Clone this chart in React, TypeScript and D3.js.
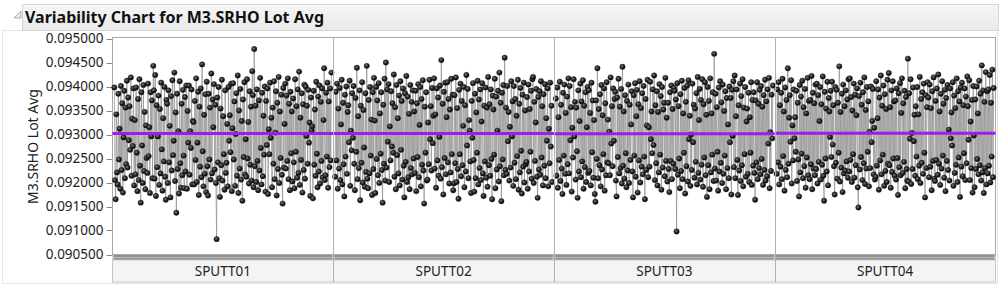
import React from "react";
import * as d3 from "d3";

const categories = ["SPUTT01", "SPUTT02", "SPUTT03", "SPUTT04"];

// Lot averages, in millionths above 0.090000
const base = 0.09;
const sputt01 = [
  3980, 2050, 1650, 3420, 2210, 1960, 3850, 2480, 3120, 1870,
  4010, 2260, 3650, 1790, 2940, 3910, 2090, 3560, 2380, 4120,
  2310, 3770, 2880, 3590, 2680, 4190, 2140, 3330, 2760, 3960,
  1940, 3300, 2170, 3980, 2620, 1820, 3740, 2050, 4150, 2350,
  1580, 3880, 2770, 1990, 4030, 2240, 3470, 1860, 3190, 2510,
  2200, 4060, 2550, 3150, 1780, 3880, 2960, 3710, 2090, 4430,
  3920, 2080, 4240, 1720, 3610, 2320, 2960, 3810, 1950, 3530,
  2190, 4080, 2690, 1830, 3340, 2440, 3990, 2120, 1640, 3720,
  3640, 1990, 3920, 2420, 3180, 1690, 3800, 2250, 4130, 2570,
  2870, 4290, 2030, 3460, 1370, 3850, 2280, 3070, 1770, 4110,
  2400, 1890, 3640, 2150, 3930, 2560, 1880, 3780, 2230, 4020,
  1870, 3490, 2830, 4020, 2160, 3070, 2720, 3940, 1960, 3280,
  3260, 1960, 3700, 2470, 4170, 2010, 2830, 3890, 1740, 3580,
  2330, 3960, 2110, 4460, 2650, 1920, 3410, 2180, 3840, 1800,
  4100, 2340, 1730, 3850, 2480, 3560, 2060, 4270, 2190, 3730,
  3150, 4050, 2270, 3620, 1990, 820, 3770, 2420, 3990, 2090,
  1700, 3540, 2360, 4140, 2040, 3380, 2590, 1850, 3920, 2200,
  2410, 3220, 1920, 3990, 2870, 3400, 2630, 4060, 1820, 3130,
  4070, 2480, 3690, 1930, 3010, 3860, 2140, 4230, 1780, 3500,
  2290, 3950, 2060, 3280, 1620, 3730, 2530, 4090, 2170, 2900,
  2120, 4150, 2500, 3260, 1980, 3900, 2370, 3580, 2040, 4320,
  3820, 1900, 4780, 2340, 3600, 2010, 3940, 2450, 1840, 3710,
  2250, 4180, 2720, 1960, 3870, 2130, 3390, 2580, 4000, 1810,
  3700, 2780, 3960, 1760, 3110, 2590, 4080, 2930, 3350, 1900,
  3560, 2390, 4110, 2070, 3040, 3900, 1730, 3660, 2280, 4200,
  1990, 3480, 2510, 3830, 2160, 1560, 3970, 2310, 3220, 4060,
  2290, 3810, 2450, 4170, 2070, 3640, 1840, 3890, 2610, 3480,
  2020, 3750, 2420, 1880, 4150, 2640, 3590, 2100, 3940, 2200,
  4310, 1950, 3350, 2470, 3860, 1790, 3630, 2260, 4040, 2080,
  4000, 2970, 3600, 2390, 3930, 2830, 3250, 1720, 3770, 3080,
  3170, 1670, 3910, 2370, 3520, 2140, 4100, 2600, 1900, 3790,
  2230, 4020, 1980, 3680, 2450, 3960, 2110, 3300, 4380, 2050,
  2150, 3870, 2540, 4080, 1890, 3690, 2320, 3960, 2460, 4290,
];
const sputt02 = [
  2120, 3890, 2460, 4060, 1870, 3540, 2290, 3970, 2050, 3210,
  4140, 1960, 3660, 2380, 1710, 3830, 2540, 4000, 2180, 3470,
  3610, 2840, 4120, 1930, 3080, 2670, 3860, 2930, 4010, 2390,
  1840, 3760, 2640, 4390, 2070, 3380, 2300, 3920, 1630, 3600,
  2410, 4090, 2000, 3510, 2730, 1910, 3860, 2220, 4430, 2080,
  1880, 3720, 2190, 3990, 2560, 3310, 1740, 3880, 2280, 4180,
  3290, 1780, 3990, 2490, 3710, 2150, 4070, 1990, 3440, 2600,
  3880, 2260, 1580, 3620, 2390, 4160, 2040, 4500, 2310, 3940,
  2850, 4050, 2010, 3170, 2460, 3900, 2750, 3650, 2620, 4250,
  2120, 3570, 1860, 4030, 2570, 3340, 2190, 3810, 1940, 4110,
  2680, 3700, 2060, 3960, 2350, 1690, 3860, 2430, 4220, 2010,
  3790, 2110, 3430, 1860, 4030, 2300, 3680, 2170, 3920, 2500,
  3480, 2200, 3910, 1820, 3650, 2530, 4050, 2110, 3200, 3990,
  1920, 3740, 2370, 4130, 2250, 1560, 3580, 2620, 3880, 2040,
  2060, 3250, 2380, 4140, 2900, 3590, 2250, 3970, 2820, 3390,
  4170, 2290, 3420, 1890, 3960, 2460, 3770, 2140, 2950, 4020,
  2080, 4550, 2320, 3640, 1750, 3890, 2510, 4080, 2170, 3360,
  4090, 2420, 3740, 1980, 3520, 2210, 4160, 2590, 3830, 1840,
  1980, 3820, 2400, 4190, 2010, 3550, 2280, 1660, 3930, 2590,
  4060, 2130, 3700, 2360, 3180, 3990, 1900, 3610, 2230, 4240,
  2770, 3950, 2090, 3300, 3080, 2440, 1780, 3700, 2930, 4070,
  2470, 1810, 3850, 2090, 3460, 2620, 4120, 1960, 3730, 2300,
  3940, 2050, 3270, 4070, 2190, 1720, 3600, 2440, 3980, 2100,
  3560, 1910, 4200, 2360, 3630, 2140, 3940, 2490, 1650, 3810,
  3520, 2580, 4160, 1880, 3790, 2270, 3080, 3910, 2020, 4290,
  2340, 3660, 1610, 3870, 2480, 4030, 2150, 4600, 2260, 3560,
  2180, 4010, 2860, 3470, 2040, 3160, 2310, 4110, 2960, 3690,
  1930, 4010, 2410, 3740, 2070, 3390, 2550, 4140, 1850, 3640,
  2210, 3970, 2660, 1770, 3830, 2330, 4080, 2000, 3500, 2380,
  2430, 3780, 1870, 4040, 2230, 3530, 2640, 3910, 2080, 4150,
  4200, 1990, 3680, 2450, 3250, 3950, 2120, 1680, 3780, 2270,
  3900, 2160, 4110, 2520, 3590, 1940, 3840, 2350, 4050, 2090,
  3340, 2870, 3960, 1920, 3120, 2400, 4080, 2750, 3600, 2010,
];
const sputt03 = [
  3750, 2140, 3980, 1890, 3360, 2470, 4100, 2030, 3620, 2290,
  1760, 3870, 2560, 4040, 2180, 3450, 1950, 3790, 2380, 4170,
  2190, 4010, 2880, 3570, 1810, 3140, 2520, 4150, 2960, 3680,
  2060, 3560, 2650, 1680, 3920, 2230, 3280, 4060, 2110, 3690,
  2440, 4130, 1870, 3600, 2320, 3880, 2010, 3150, 3990, 2200,
  3920, 2240, 3450, 1940, 4080, 2630, 3710, 2100, 3300, 1760,
  1600, 3710, 2490, 4380, 2090, 3530, 2360, 3840, 1920, 4030,
  2270, 3400, 2590, 3960, 1830, 3650, 2150, 4090, 2420, 3310,
  2400, 3060, 2150, 4190, 2810, 3590, 2340, 3960, 2870, 3740,
  3890, 2040, 1710, 3770, 2530, 4160, 2190, 3580, 2300, 3950,
  1980, 4410, 2350, 3480, 2080, 3820, 2610, 1900, 3700, 2250,
  4040, 1990, 3620, 2470, 3210, 3900, 2230, 1690, 3820, 2560,
  4070, 2120, 3380, 3930, 1790, 3630, 2460, 4110, 2000, 3550,
  2330, 3860, 2170, 4010, 2540, 1650, 3740, 2260, 3190, 4140,
  2110, 3150, 2330, 4100, 2900, 3480, 2610, 3940, 2780, 4230,
  2050, 3610, 2400, 3900, 1940, 3470, 2210, 4050, 2580, 3800,
  1850, 3990, 2310, 3520, 3660, 2130, 4180, 2450, 3350, 2020,
  3660, 2280, 1800, 3880, 2450, 4020, 2070, 3530, 2390, 3970,
  3910, 2280, 3730, 980, 4070, 2160, 3590, 2500, 1880, 3840,
  2240, 4120, 2070, 3440, 2620, 3970, 1770, 3680, 2340, 4020,
  2020, 4130, 2900, 3390, 1930, 3000, 2260, 4060, 2840, 3620,
  2100, 3540, 2430, 3860, 1960, 4200, 2200, 3300, 3950, 2060,
  3720, 2370, 4150, 1910, 3630, 2520, 4090, 2150, 3410, 1700,
  3990, 2360, 3700, 1860, 4170, 2210, 3440, 2580, 3880, 2030,
  4680, 2290, 3850, 2040, 3570, 2640, 1830, 3980, 2230, 4110,
  2410, 3670, 1990, 4040, 2180, 3490, 2560, 3900, 1860, 3760,
  2300, 3210, 2090, 4000, 2840, 3760, 1750, 3930, 2970, 4110,
  2320, 4230, 2090, 3380, 3940, 2470, 1740, 3610, 2250, 4060,
  2030, 3800, 2360, 4150, 1920, 3560, 2590, 3990, 2120, 3270,
  3540, 2180, 3870, 2010, 3360, 2620, 4090, 1950, 3720, 2350,
  3880, 2200, 1640, 3710, 2420, 4090, 2070, 3640, 2300, 3930,
  2170, 4010, 2490, 3580, 1950, 3820, 2260, 4140, 2040, 3690,
  2130, 3940, 2810, 4180, 1880, 3050, 2240, 3830, 2920, 4020,
];
const sputt04 = [
  2180, 3940, 2420, 4090, 1960, 3610, 2330, 3870, 2070, 4160,
  2550, 3480, 1830, 3980, 2260, 3720, 2110, 4380, 2390, 3350,
  3820, 2850, 4130, 1980, 3190, 2460, 3940, 2920, 3360, 2640,
  3910, 2030, 3660, 2480, 1710, 4030, 2210, 3790, 2600, 4120,
  2090, 3570, 2340, 3950, 1890, 3440, 2520, 4180, 2150, 3700,
  2070, 3720, 2380, 4220, 1860, 3870, 2290, 3650, 2150, 4040,
  2280, 4060, 1980, 3820, 2430, 3280, 3990, 2060, 3630, 2370,
  4210, 2140, 1620, 3890, 2500, 3540, 2230, 4100, 1940, 3760,
  3480, 2950, 3910, 2530, 4100, 2790, 3610, 2340, 1750, 3990,
  2410, 3930, 2080, 3660, 2620, 4420, 2020, 3470, 2310, 3850,
  1800, 4040, 2190, 3590, 2250, 3920, 2440, 3730, 2100, 4150,
  2230, 4170, 2470, 3780, 2010, 3500, 2590, 4060, 2100, 3830,
  2360, 3400, 3960, 1900, 1480, 3800, 2270, 4080, 2530, 3620,
  2050, 3880, 2400, 4190, 1970, 3510, 2290, 3990, 2640, 3690,
  1920, 3060, 2300, 4000, 2840, 3280, 3950, 2170, 3140, 2060,
  2120, 4110, 2350, 3340, 3940, 1850, 3770, 2460, 4230, 2170,
  3600, 2580, 4020, 1930, 3840, 2240, 3530, 2010, 4140, 2390,
  4280, 2360, 3570, 1890, 3920, 2220, 4110, 2500, 3690, 2140,
  3710, 2060, 3960, 2510, 1740, 3860, 2320, 4070, 2150, 3450,
  4170, 2200, 3650, 2430, 3910, 1880, 3780, 2280, 2040, 4580,
  2020, 3860, 2910, 4150, 1970, 3030, 2280, 3980, 2860, 3410,
  2140, 3590, 2540, 3990, 2070, 3420, 2350, 4200, 1990, 3740,
  2410, 3880, 2180, 4060, 2620, 1690, 3820, 2300, 3570, 4090,
  3770, 2110, 4040, 2330, 3550, 1840, 3900, 2450, 4190, 2080,
  2030, 3700, 2470, 3960, 2160, 4250, 2390, 3480, 1950, 3850,
  2290, 4110, 2560, 3640, 2100, 3930, 1820, 3760, 2450, 4030,
  2260, 3100, 2040, 3960, 2920, 3460, 2770, 4090, 1930, 3810,
  2200, 3550, 2370, 4170, 2010, 3900, 2520, 3690, 1700, 3980,
  2330, 4080, 2130, 3610, 2610, 3960, 2050, 3790, 2400, 4210,
  3590, 2890, 4130, 2050, 3270, 2300, 3720, 1790, 4010, 2980,
  1900, 3730, 2280, 4000, 2490, 3440, 2170, 4120, 2360, 3850,
  2040, 4440, 2210, 3920, 1780, 3680, 2300, 4300, 1960, 3900,
  2190, 3940, 2350, 4240, 2000, 3660, 2540, 4350, 2110, 3970,
];
const groupMeans = [0.09302, 0.09302, 0.093015, 0.093025];
const yTicks = [0.0905, 0.091, 0.0915, 0.092, 0.0925, 0.093, 0.0935, 0.094, 0.0945, 0.095];

const W = 999;
const H = 290;
const L = 112.5;
const R = 995.5;
const T = 38.5;
const B = 254.5;
const FONT = "'Noto Sans', 'Open Sans', sans-serif";

export default function App() {
  const series = [sputt01, sputt02, sputt03, sputt04].map((a) => a.map((v) => base + v / 1e6));
  const xBand = d3.scaleBand<string>().domain(categories).range([L, R]).padding(0);
  const y = d3.scaleLinear().domain([0.0905, 0.095]).range([B, T]);
  const fmt = d3.format(".6f");
  const bw = xBand.bandwidth();

  const groups = series.map((vals, gi) => {
    const x0 = xBand(categories[gi])!;
    const xi = d3.scaleLinear().domain([-0.5, vals.length - 0.5]).range([x0 + 1.5, x0 + bw - 1.5]);
    const pts: [number, number][] = vals.map((v, i) => [xi(i), y(v)]);
    return { x0, pts };
  });
  const line = d3.line();

  return (
    <svg
      width={W}
      height={H}
      style={{ position: "absolute", left: 0, top: 0, background: "#fff" }}
      fontFamily={FONT}
    >
      <defs>
        <radialGradient id="ball" cx="40%" cy="38%" r="60%">
          <stop offset="0%" stopColor="#7a7a7a" />
          <stop offset="55%" stopColor="#262626" />
          <stop offset="100%" stopColor="#080808" />
        </radialGradient>
        <linearGradient id="bar" x1="0" y1="0" x2="0" y2="1">
          <stop offset="0%" stopColor="#f6f6f6" />
          <stop offset="100%" stopColor="#e9e9e9" />
        </linearGradient>
      </defs>

      {/* outline */}
      <rect x={2.5} y={30.5} width={995} height={253} fill="none" stroke="#e4e4e4" />
      {/* title bar */}
      <rect x={22.5} y={4.5} width={976} height={26} fill="url(#bar)" stroke="#d6d6d6" />
      <path d="M21,11 L21,18 L14,18 Z" fill="#e8e8e8" stroke="#9a9a9a" strokeWidth={0.8} />
      <text x={25} y={23} fontSize={16.5} fontWeight="bold" fill="#111" textLength={299} lengthAdjust="spacingAndGlyphs">
        Variability Chart for M3.SRHO Lot Avg
      </text>

      {/* y axis title */}
      <text
        transform={`translate(38, ${(T + B) / 2}) rotate(-90)`}
        textAnchor="middle"
        fontSize={14}
        fill="#222"
      >
        M3.SRHO Lot Avg
      </text>

      {/* y ticks */}
      {yTicks.map((t) => (
        <g key={t}>
          <line x1={L - 6} x2={L} y1={Math.round(y(t)) + 0.5} y2={Math.round(y(t)) + 0.5} stroke="#888" />
          <text x={L - 9} y={y(t)} dy="0.35em" textAnchor="end" fontSize={13.5} fill="#222">
            {fmt(t)}
          </text>
        </g>
      ))}

      {/* plot frame */}
      <rect x={L} y={T - 1} width={R - L} height={B - T + 1} fill="#fff" stroke="#a8a8a8" />

      {/* connecting lines */}
      {groups.map((g, gi) => (
        <path key={"l" + gi} d={line(g.pts) || ""} fill="none" stroke="#8e8e8e" strokeWidth={0.7} />
      ))}
      {/* points */}
      {groups.map((g, gi) =>
        g.pts.map((p, i) => (
          <circle key={gi + "-" + i} cx={p[0]} cy={p[1]} r={2.7} fill="url(#ball)" stroke="#111" strokeWidth={0.4} />
        ))
      )}

      {/* group means */}
      {groupMeans.map((m, gi) => (
        <line
          key={"m" + gi}
          x1={xBand(categories[gi])!}
          x2={xBand(categories[gi])! + bw}
          y1={y(m)}
          y2={y(m)}
          stroke="#9d1ee8"
          strokeWidth={3}
        />
      ))}

      {/* hatch band of lots */}
      <rect x={L} y={B + 0.5} width={R - L} height={5} fill="#b4b4b4" />
      {groups.map((g, gi) =>
        g.pts.map((p, i) => (
          <line key={"h" + gi + "-" + i} x1={p[0]} x2={p[0]} y1={B + 0.5} y2={B + 5.5} stroke="#707070" strokeWidth={0.4} />
        ))
      )}
      <line x1={L} x2={R} y1={B + 3} y2={B + 3} stroke="#c8c8c8" strokeWidth={0.8} />

      {/* label row */}
      <rect x={L} y={B + 5.5} width={R - L} height={22} fill="#f4f4f4" stroke="#c4c4c4" />
      {categories.map((c) => (
        <text
          key={c}
          x={xBand(c)! + bw / 2}
          y={B + 21}
          textAnchor="middle"
          fontSize={13.5}
          fill="#222"
        >
          {c}
        </text>
      ))}

      {/* group separators */}
      {categories.slice(1).map((c) => (
        <line
          key={"s" + c}
          x1={Math.round(xBand(c)!) + 0.5}
          x2={Math.round(xBand(c)!) + 0.5}
          y1={T - 1}
          y2={B + 27.5}
          stroke="#b0b0b0"
        />
      ))}
    </svg>
  );
}
